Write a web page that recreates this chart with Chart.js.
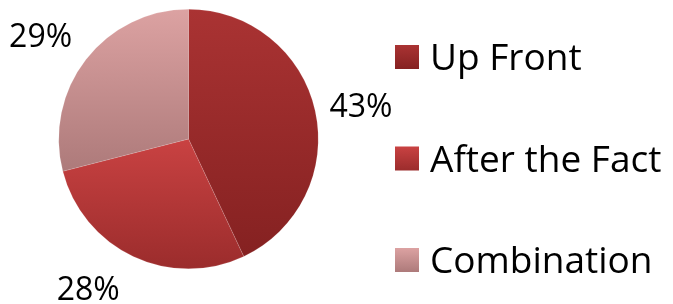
<!DOCTYPE html>
<html>
<head>
<meta charset="utf-8">
<script src="https://cdn.jsdelivr.net/npm/chart.js@4"></script>
<style>
  html, body { margin: 0; padding: 0; background: #fff; }
  #wrap { width: 673px; height: 304px; }
</style>
</head>
<body>
<div id="wrap"><canvas id="pieChart"></canvas></div>
<script>
const categories = ['Up Front', 'After the Fact', 'Combination'];
const shares = [43, 28, 29];
const pctLabels = ['43%', '28%', '29%'];

// top / bottom colours of each slice gradient
const topColors = ['#aa3333', '#c94242', '#dca2a2'];
const bottomColors = ['#852121', '#9b2c2c', '#ad7a7a'];

// label placement: extra distance beyond the rim and small angle nudge (deg)
const labelGap = [46, 50, 51];
const labelNudge = [1.5, 8.7, -2.7];

const FONT = '"Open Sans", sans-serif';

function sliceGradient(context) {
  const chart = context.chart;
  const i = context.dataIndex;
  const area = chart.chartArea;
  if (!area) return topColors[i];
  const cx = (area.left + area.right) / 2;
  const cy = (area.top + area.bottom) / 2;
  const r = Math.min(area.right - area.left, area.bottom - area.top) / 2;
  const total = shares.reduce((a, b) => a + b, 0);
  let start = -Math.PI / 2;
  for (let k = 0; k < i; k++) start += shares[k] / total * Math.PI * 2;
  const end = start + shares[i] / total * Math.PI * 2;
  let y0 = cy, y1 = cy;
  for (let s = 0; s <= 60; s++) {
    const a = start + (end - start) * s / 60;
    const y = cy + Math.sin(a) * r;
    y0 = Math.min(y0, y);
    y1 = Math.max(y1, y);
  }
  const g = chart.ctx.createLinearGradient(0, y0, 0, y1);
  g.addColorStop(0, topColors[i]);
  g.addColorStop(1, bottomColors[i]);
  return g;
}

const outsideLabels = {
  id: 'outsideLabels',
  afterDatasetsDraw(chart) {
    const ctx = chart.ctx;
    const meta = chart.getDatasetMeta(0);
    ctx.save();
    ctx.font = '32px ' + FONT;
    ctx.fillStyle = '#000';
    ctx.textAlign = 'center';
    ctx.textBaseline = 'alphabetic';
    meta.data.forEach((arc, i) => {
      const mid = (arc.startAngle + arc.endAngle) / 2 + labelNudge[i] * Math.PI / 180;
      const d = arc.outerRadius + labelGap[i];
      ctx.fillText(pctLabels[i], arc.x + Math.cos(mid) * d, arc.y + Math.sin(mid) * d + 11.5);
    });
    ctx.restore();
  }
};

const sideLegend = {
  id: 'sideLegend',
  afterDraw(chart) {
    const ctx = chart.ctx;
    ctx.save();
    ctx.font = '37px ' + FONT;
    ctx.textBaseline = 'alphabetic';
    ctx.textAlign = 'left';
    categories.forEach((name, i) => {
      const yc = 57 + i * 101.5;
      const g = ctx.createLinearGradient(0, yc - 12, 0, yc + 12);
      g.addColorStop(0, topColors[i]);
      g.addColorStop(1, bottomColors[i]);
      ctx.fillStyle = g;
      ctx.fillRect(395, yc - 12, 24, 24);
      ctx.fillStyle = '#000';
      ctx.fillText(name, 430, yc + 13);
    });
    ctx.restore();
  }
};

new Chart(document.getElementById('pieChart'), {
  type: 'pie',
  data: {
    labels: categories,
    datasets: [{
      data: shares,
      backgroundColor: sliceGradient,
      borderColor: 'rgba(255,255,255,0.25)',
      borderWidth: 0.5
    }]
  },
  options: {
    responsive: true,
    maintainAspectRatio: false,
    animation: false,
    layout: { padding: { top: 9, bottom: 35, left: 58, right: 354 } },
    plugins: {
      legend: { display: false },
      tooltip: { enabled: false }
    }
  },
  plugins: [outsideLabels, sideLegend]
});
</script>
</body>
</html>
